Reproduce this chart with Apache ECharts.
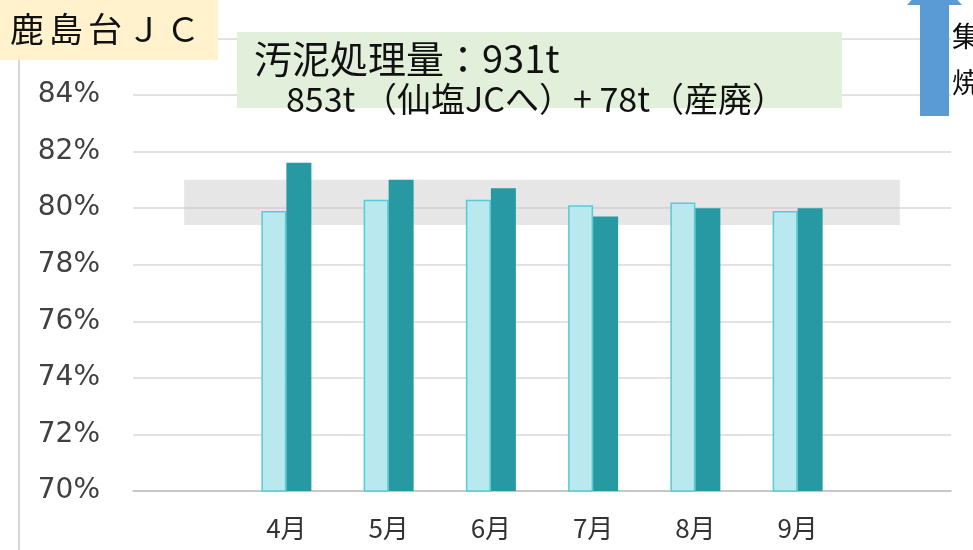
<!DOCTYPE html>
<html>
<head>
<meta charset="utf-8">
<script src="https://cdn.jsdelivr.net/npm/echarts@6/dist/echarts.min.js"></script>
<style>
  html, body { margin: 0; padding: 0; background: #fff; }
  #chart { width: 973px; height: 550px; }
</style>
</head>
<body>
<div id="chart"></div>
<script>
// 月別（前後に空カテゴリ）
const categories = ['', '4月', '5月', '6月', '7月', '8月', '9月', ''];
const rateA = [null, 79.9, 80.3, 80.3, 80.1, 80.2, 79.9, null];
const rateB = [null, 81.6, 81.0, 80.7, 79.7, 80.0, 80.0, null];
const targetBand = [79.4, 81.0];
const yTicks = { min: 70, max: 86, interval: 2 };

const jp = '"Noto Sans CJK JP", sans-serif';

// 目標帯（積み上げ線で描く）
const bandBase = categories.map(() => targetBand[0]);
const bandHeight = categories.map(() => +(targetBand[1] - targetBand[0]).toFixed(2));

const chart = echarts.init(document.getElementById('chart'));

const titleChars = ['鹿', '島', '台', 'Ｊ', 'Ｃ'];

const option = {
  animation: false,
  grid: { left: 133, right: 22, top: 38.4, bottom: 59 },
  xAxis: {
    type: 'category',
    data: categories,
    axisTick: { show: false },
    axisLine: { lineStyle: { color: '#bfbfbf', width: 1.5 } },
    axisLabel: { color: '#333', fontSize: 26, margin: 24, fontFamily: jp }
  },
  yAxis: {
    type: 'value',
    min: yTicks.min,
    max: yTicks.max,
    interval: yTicks.interval,
    axisLine: { show: false },
    axisTick: { show: false },
    splitLine: { lineStyle: { color: '#d9d9d9', width: 1.5 } },
    axisLabel: {
      color: '#404040',
      fontSize: 28,
      margin: 33,
      fontFamily: 'DejaVu Sans',
      formatter: v => v + '%'
    }
  },
  series: [
    {
      name: 'base',
      type: 'line',
      stack: 'band',
      data: bandBase,
      symbol: 'none',
      silent: true,
      lineStyle: { width: 0, opacity: 0 },
      z: 1
    },
    {
      name: 'band',
      type: 'line',
      stack: 'band',
      data: bandHeight,
      symbol: 'none',
      silent: true,
      lineStyle: { width: 0, opacity: 0 },
      areaStyle: { color: 'rgba(200,200,200,0.45)', opacity: 1 },
      z: 1
    },
    {
      name: 'A',
      type: 'bar',
      data: rateA,
      barWidth: 25,
      barGap: '0%',
      itemStyle: { color: '#b9e9ee', borderColor: '#55ccd8', borderWidth: 1.5 },
      z: 3
    },
    {
      name: 'B',
      type: 'bar',
      data: rateB,
      barWidth: 25,
      itemStyle: { color: '#2699a3' },
      z: 3
    }
  ],
  graphic: [
    // 左の縦線
    { type: 'line', z: 100, shape: { x1: 19, y1: 60, x2: 19, y2: 550 }, style: { stroke: '#c8c8c8', lineWidth: 1.5 } },
    // タイトル
    { type: 'rect', z: 100, shape: { x: 0, y: 0, width: 218, height: 60 }, style: { fill: '#fff2cc' } },
    ...titleChars.map((c, i) => ({
      type: 'text', z: 101, x: 10 + i * 39, y: 29,
      style: { text: c, font: '34px ' + jp, fill: '#111', verticalAlign: 'middle' }
    })),
    // 汚泥処理量
    { type: 'rect', z: 100, shape: { x: 237, y: 32, width: 605, height: 76 }, style: { fill: '#e2efda' } },
    { type: 'text', z: 101, x: 254, y: 59, style: { text: '汚泥処理量：931t', font: '38px ' + jp, fill: '#111', verticalAlign: 'middle' } },
    { type: 'text', z: 101, x: 286, y: 99, style: { text: '853t （仙塩JCへ）+ 78t（産廃）', font: '34px ' + jp, fill: '#111', verticalAlign: 'middle' } },
    // 右上の矢印
    { type: 'polygon', z: 100, shape: { points: [[920, 116], [949, 116], [949, 5], [962, 5], [934.5, -25], [907, 5], [920, 5]] }, style: { fill: '#5b9bd5' } },
    { type: 'text', z: 101, x: 952, y: 36, style: { text: '集', font: '28px ' + jp, fill: '#111', verticalAlign: 'middle' } },
    { type: 'text', z: 101, x: 952, y: 82, style: { text: '焼', font: '28px ' + jp, fill: '#111', verticalAlign: 'middle' } }
  ]
};

chart.setOption(option);
</script>
</body>
</html>
